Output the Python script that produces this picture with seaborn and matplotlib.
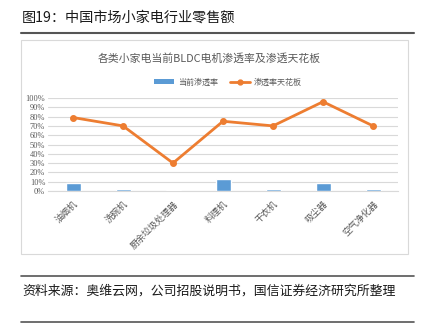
import matplotlib
matplotlib.use("Agg")
import matplotlib.pyplot as plt
import seaborn as sns
import pandas as pd
from matplotlib.lines import Line2D
from matplotlib.patches import Rectangle, Patch

categories = ["油烟机", "洗碗机", "厨余垃圾处理器", "料理机", "干衣机", "吸尘器", "空气净化器"]
current_rate = [8.6, 1.8, 0.8, 12.9, 1.8, 8.3, 1.8]
ceiling_rate = [79, 70, 30, 75, 70, 96, 70]
yticks = [0, 10, 20, 30, 40, 50, 60, 70, 80, 90, 100]

sns.set_theme(style="white")
plt.rcParams['font.family'] = ['Noto Sans CJK SC', 'DejaVu Sans']

df = pd.DataFrame({"cat": categories, "cur": current_rate, "ceil": ceiling_rate})

W, H = 430, 331
fig = plt.figure(figsize=(W / 100, H / 100), dpi=100)

def fx(x):
    return x / W

def fy(y):
    return 1 - y / H

# Header
fig.text(fx(22), fy(18), "图19：中国市场小家电行业零售额", fontsize=10.2, color="#1a1a1a",
         va="center", ha="left")
fig.add_artist(Line2D([fx(21), fx(414)], [fy(33), fy(33)], color="#555555", lw=1.5))

# Chart frame
fig.add_artist(Rectangle((fx(21), fy(254)), fx(408) - fx(21), fy(40) - fy(254),
                         fill=False, edgecolor="#d9d9d9", lw=0.8))

# Chart title
fig.text(fx(209), fy(58), "各类小家电当前BLDC电机渗透率及渗透天花板", fontsize=7.8,
         color="#595959", ha="center", va="center")

ax = fig.add_axes([fx(48), fy(191), fx(398) - fx(48), fy(98) - fy(191)])
sns.barplot(data=df, x="cat", y="cur", color="#5B9BD5", width=0.3, ax=ax,
            saturation=1, zorder=3)
sns.pointplot(data=df, x="cat", y="ceil", color="#ED7D31", ax=ax, markers="o",
              markersize=3.5, linewidth=2)
for c in ax.collections:
    c.set_zorder(4)
for l in ax.lines:
    l.set_zorder(4)

ax.set_ylim(0, 100)
ax.set_xlim(-0.5, 6.5)
ax.set_yticks(yticks)
ax.set_yticklabels([f"{v}%" for v in yticks], fontsize=6, color="#595959",
                   family=['Liberation Serif', 'DejaVu Serif'])
ax.set_xticks(range(len(categories)))
ax.set_xticklabels(categories, rotation=45, ha="right", rotation_mode="anchor",
                   fontsize=6.5, color="#595959")
ax.set_xlabel("")
ax.set_ylabel("")
ax.yaxis.grid(True, color="#d9d9d9", lw=0.8, zorder=0)
ax.set_axisbelow(True)
for s in ["top", "right", "left"]:
    ax.spines[s].set_visible(False)
ax.spines["bottom"].set_color("#d9d9d9")
ax.spines["bottom"].set_linewidth(0.8)
ax.tick_params(axis="y", length=0, pad=2)
ax.tick_params(axis="x", length=2, color="#bfbfbf", pad=4)

handles = [Patch(facecolor="#5B9BD5", edgecolor="none"),
           Line2D([0], [0], color="#ED7D31", lw=2, marker="o", markersize=3.5)]
fig.legend(handles, ["当前渗透率", "渗透率天花板"], loc="center",
           bbox_to_anchor=(fx(228), fy(82)), ncol=2, frameon=False, fontsize=5.8,
           labelcolor="#595959", handlelength=2.5, columnspacing=1.5, handletextpad=0.5)

# Footer
fig.add_artist(Line2D([fx(21), fx(414)], [fy(276), fy(276)], color="#555555", lw=1.2))
fig.text(fx(22), fy(291), "资料来源：奥维云网，公司招股说明书，国信证券经济研究所整理",
         fontsize=9.3, color="#1a1a1a", va="center", ha="left")
fig.add_artist(Line2D([fx(21), fx(414)], [fy(322), fy(322)], color="#555555", lw=1.2))

fig.savefig("out.png", dpi=100)
